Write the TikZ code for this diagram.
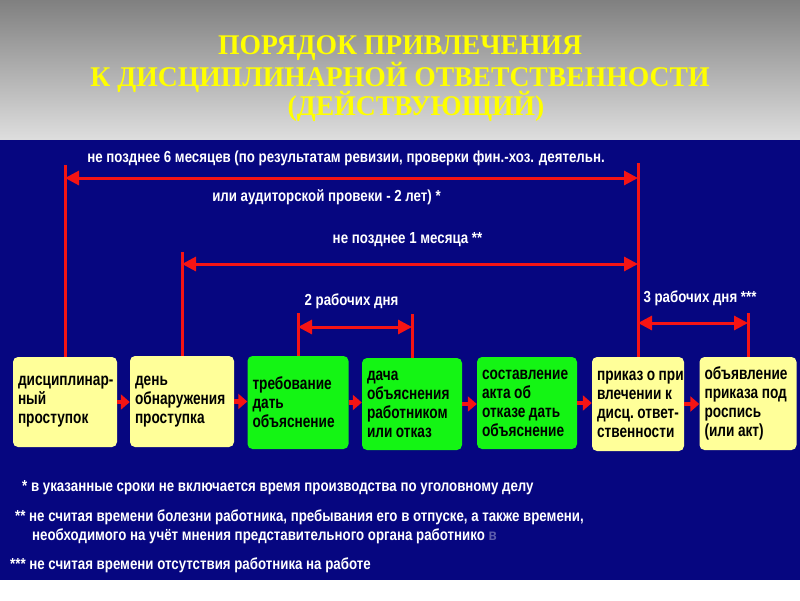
\documentclass[tikz,border=0pt]{standalone}
\usepackage{fontspec}
\setmainfont{Liberation Serif}
\newfontfamily\ttlfont[FakeStretch=0.97]{Liberation Serif}
\newfontfamily\labfont[FakeStretch=0.83]{Liberation Sans}
\newfontfamily\boxfont[FakeStretch=0.78]{Liberation Sans}
\newcommand\wsp{\hspace{3.5pt}}
\usetikzlibrary{arrows.meta}
\definecolor{navybg}{RGB}{6,6,128}
\definecolor{boxyellow}{RGB}{255,255,153}
\definecolor{boxgreen}{RGB}{20,245,20}
\definecolor{redline}{RGB}{245,20,20}
\definecolor{titleyellow}{RGB}{255,255,0}
\tikzset{
  lbl/.style={text=white, font=\labfont\bfseries\fontsize{16}{19}\selectfont, inner sep=0pt},
  boxy/.style={rounded corners=5pt, fill=boxyellow, align=left, inner xsep=5pt, inner ysep=0pt,
     font=\boxfont\bfseries\fontsize{17.5}{19}\selectfont, text=black},
  boxg/.style={boxy, fill=boxgreen},
  tick/.style={draw=redline, line width=3pt},
  dim/.style={draw=redline, line width=3pt, {Triangle[length=14pt,width=14pt]}-{Triangle[length=14pt,width=14pt]}},
  conn/.style={draw=redline, line width=4.5pt, -{Triangle[length=9pt,width=15pt]}},
  ttl/.style={text=titleyellow, font=\ttlfont\bfseries\fontsize{28.5}{30}\selectfont, inner sep=0pt}
}
\begin{document}
\begin{tikzpicture}[x=1pt,y=-1pt]
\useasboundingbox (0,0) rectangle (800,600);
\fill[white] (0,0) rectangle (800,600);
\shade[top color={rgb,255:red,128;green,128;blue,128}, bottom color={rgb,255:red,222;green,222;blue,222}] (0,0) rectangle (800,140);
\fill[navybg] (0,140) rectangle (800,580);

% title
\node[ttl] (t1) at (400,48) {ПОРЯДОК ПРИВЛЕЧЕНИЯ};
\node[ttl] (t2) at (400,77) {К ДИСЦИПЛИНАРНОЙ ОТВЕТСТВЕННОСТИ};
\node[ttl] (t3) at (416,106) {(ДЕЙСТВУЮЩИЙ)};

% boxes
\node[boxy, text width=94pt, minimum height=90pt] (b1) at (65,402)
  {\mbox{дисциплинар-}\\\mbox{ный}\\\mbox{проступок}};
\node[boxy, text width=94pt, minimum height=91pt] (b2) at (182,401.5)
  {\mbox{день}\\\mbox{обнаружения}\\\mbox{проступка}};
\node[boxg, text width=91pt, minimum height=93pt] (b3) at (298,402.5)
  {\mbox{требование}\\\mbox{дать}\\\mbox{объяснение}};
\node[boxg, text width=90pt, minimum height=92pt] (b4) at (412,404)
  {\mbox{дача}\\\mbox{объяснения}\\\mbox{работником}\\\mbox{или\wsp отказ}};
\node[boxg, text width=90pt, minimum height=92pt] (b5) at (527,403)
  {\mbox{составление}\\\mbox{акта\wsp об}\\\mbox{отказе\wsp дать}\\\mbox{объяснение}};
\node[boxy, text width=82pt, minimum height=94pt] (b6) at (638,404)
  {\mbox{приказ\wsp о\wsp при}\\\mbox{влечении\wsp к}\\\mbox{дисц.\wsp ответ-}\\\mbox{ственности}};
\node[boxy, text width=87pt, minimum height=93pt] (b7) at (748,403.5)
  {\mbox{объявление}\\\mbox{приказа\wsp под}\\\mbox{роспись}\\\mbox{(или\wsp акт)}};

% connectors between boxes
\draw[conn] (b1.east) -- (b1.east -| b2.west);
\draw[conn] (b2.east) -- (b2.east -| b3.west);
\draw[conn] (b3.east) -- (b3.east -| b4.west);
\draw[conn] (b4.east) -- (b4.east -| b5.west);
\draw[conn] (b5.east) -- (b5.east -| b6.west);
\draw[conn] (b6.east) -- (b6.east -| b7.west);

% vertical ticks
\coordinate (v1) at (65,165);
\coordinate (v2) at (182,252);
\coordinate (v3) at (298,313);
\coordinate (v4) at (412,314);
\coordinate (v6) at (638,163);
\coordinate (v7) at (748,313);
\draw[tick] (b1.north) -- (v1);
\draw[tick] (b2.north) -- (v2);
\draw[tick] (b3.north) -- (v3);
\draw[tick] (b4.north) -- (v4);
\draw[tick] (b6.north) -- (v6);
\draw[tick] (b7.north) -- (v7);

% dimension arrows
\coordinate (d1l) at (65,178);  \coordinate (d1r) at (638,178);
\coordinate (d2l) at (182,264); \coordinate (d2r) at (638,264);
\coordinate (d3l) at (298,327); \coordinate (d3r) at (412,327);
\coordinate (d4l) at (638,323); \coordinate (d4r) at (748,323);
\draw[dim] (d1l) -- (d1r);
\draw[dim] (d2l) -- (d2r);
\draw[dim] (d3l) -- (d3r);
\draw[dim] (d4l) -- (d4r);

% labels
\node[lbl] (l1) at (346,158) {не позднее 6 месяцев (по результатам ревизии, проверки фин.-хоз. деятельн.};
\node[lbl] (l2) at (326.5,197) {или аудиторской провеки - 2 лет) *};
\node[lbl] (l3) at (407.5,240) {не позднее 1 месяца **};
\node[lbl] (l4) at (351.5,301) {2 рабочих дня};
\node[lbl] (l5) at (700,298) {3 рабочих дня ***};

% footnotes
\node[lbl, anchor=west] (f1) at (22,488) {* в указанные сроки не включается время производства по уголовному делу};
\node[lbl, anchor=west] (f2) at (15,517) {** не считая времени болезни работника, пребывания его в отпуске, а также времени,};
\node[lbl, anchor=west] (f3) at (32,536) {необходимого на учёт мнения представительного органа работнико {\color{white!35!navybg}в}};
\node[lbl, anchor=west] (f4) at (10,565) {*** не считая времени отсутствия работника на работе};
\end{tikzpicture}
\end{document}
